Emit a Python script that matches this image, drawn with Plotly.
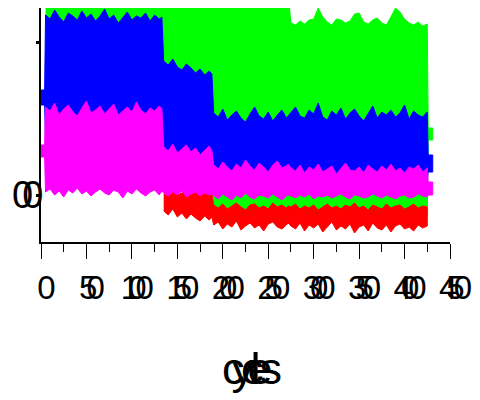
import plotly.graph_objects as go

# sample positions (cycles) of the band envelopes
X = ([5, 10, 15, 20, 25, 30, 35, 40, 45, 50, 55, 60, 65, 70, 75, 80, 85, 90, 95, 100,
      105, 110, 115, 120, 125, 130, 133]
     + [135, 140, 145, 150, 155, 160, 165, 170, 175, 180, 185, 188]
     + [190, 195, 200, 205, 210, 215, 220, 225, 230, 235, 240, 245, 250, 255, 260, 265, 270, 272]
     + [275, 280, 285, 290, 295, 300, 305, 310, 315, 320, 325, 330, 335, 340, 345, 350, 355,
        360, 365, 370, 375, 380, 385, 390, 395, 400, 405, 410, 415, 420, 425])
STUB_START = [0, 4]
STUB_END = [426, 431]

# green
green_top = ([200] * 27 + [200] * 12 + [200] * 18
             + [172, 170, 174, 171, 175, 176, 187, 178, 173, 170, 176, 175, 172, 174, 181, 182,
                173, 171, 175, 177, 172, 170, 178, 187, 183, 176, 172, 170, 173, 169, 171])
green_bot = ([30] * 27 + [10] * 12 + [-20] * 18 + [-20] * 31)
green_end_top = [67, 67]
green_end_bot = [55, 55]

# blue
blue_start_top = [105, 105]
blue_start_bot = [90, 90]
blue_top = ([180, 176, 185, 178, 173, 182, 179, 175, 184, 177, 181, 174, 179, 186, 176, 180,
             172, 178, 183, 175, 179, 177, 182, 174, 180, 176, 178]
            + [134, 130, 136, 128, 125, 131, 127, 122, 126, 120, 124, 121]
            + [82, 78, 86, 75, 80, 84, 77, 73, 81, 88, 79, 76, 83, 74, 80, 85, 77, 79]
            + [83, 88, 79, 77, 85, 81, 92, 78, 75, 84, 80, 87, 76, 82, 86, 79, 74, 81, 89, 77,
               83, 80, 85, 78, 82, 90, 76, 84, 80, 78, 83])
blue_bot = [55] * 27 + [25] * 12 + [15] * 18 + [15] * 31
blue_end_top = [40, 40]
blue_end_bot = [23, 23]

# magenta
mag_start_top = [50, 50]
mag_start_bot = [38, 38]
mag_top = ([88, 84, 92, 80, 86, 90, 83, 79, 87, 94, 82, 85, 89, 81, 86, 91, 80, 84, 88, 83,
            93, 85, 81, 87, 84, 89, 86]
           + [48, 44, 51, 42, 46, 50, 43, 47, 40, 45, 49, 44]
           + [30, 26, 33, 28, 24, 31, 27, 35, 29, 25, 32, 28, 23, 30, 34, 27, 29, 31]
           + [27, 24, 30, 22, 28, 25, 31, 23, 26, 29, 21, 27, 32, 25, 24, 28, 22, 30, 26, 23,
              29, 25, 31, 24, 27, 22, 28, 26, 30, 23, 27])
mag_bot = ([3, 6, 0, 4, -2, 5, 2, 7, 1, 4, -1, 3, 6, 2, 0, 5, 3, -3, 4, 1, 6, 2, -1, 3, 5, 0, 4]
           + [2, -1, 3, 0, 4, -2, 1, 3, -1, 2, 0, 1]
           + [-1, -4, 1, -2, -5, 0, -3, 2, -2, -4, 0, -1, -3, 1, -2, -5, -1, 0]
           + [-1, -3, 0, -2, 1, -4, -1, -2, 0, -3, -1, 1, -2, -4, 0, -1, -3, -2, 1, -1, -3, 0,
              -2, -4, -1, 0, -3, -2, 1, -1, -2])
mag_end_top = [13, 13]
mag_end_bot = [0, 0]

# red (starts at cycle 135)
red_top = ([3, 1, 4, 0, 2, 5, 1, 3, -1, 2, 4, 1]
           + [-10, -13, -9, -14, -11, -8, -12, -15, -10, -9, -13, -11, -14, -8, -12, -10, -13, -11]
           + [-12, -9, -14, -11, -13, -10, -15, -12, -9, -13, -11, -14, -10, -12, -8, -13, -11,
              -15, -10, -12, -14, -9, -13, -11, -10, -14, -12, -9, -13, -11, -12])
red_bot = ([-16, -20, -14, -22, -18, -24, -19, -23, -26, -21, -25, -22]
           + [-30, -27, -34, -29, -32, -26, -35, -31, -28, -33, -30, -36, -29, -27, -32, -34, -30, -28]
           + [-31, -34, -28, -36, -30, -33, -29, -37, -32, -27, -35, -31, -34, -29, -38, -32, -30,
              -36, -28, -33, -35, -30, -37, -31, -29, -34, -32, -36, -30, -33, -31])

X_TICKS = [0, 50, 100, 150, 200, 250, 300, 350, 400, 450]
Y_TICKS = [0, 153]
Y_TICKTEXT = ["00", ""]
X_TITLE = "cycles"


def band(xs, top, bot, color):
    px = list(xs) + list(xs)[::-1]
    py = list(top) + list(bot)[::-1]
    return go.Scatter(x=px, y=py, mode="lines", fill="toself", fillcolor=color,
                      line=dict(color=color, width=1), hoverinfo="skip", showlegend=False)


fig = go.Figure()
fig.add_trace(band(X + STUB_END, green_top + green_end_top, green_bot + green_end_bot, "#00ff00"))
rx = X[27:]
fig.add_trace(band(rx, red_top, red_bot, "#ff0000"))
fig.add_trace(band(STUB_START + X + STUB_END, blue_start_top + blue_top + blue_end_top,
                   blue_start_bot + blue_bot + blue_end_bot, "#0000ff"))
fig.add_trace(band(STUB_START + X + STUB_END, mag_start_top + mag_top + mag_end_top,
                   mag_start_bot + mag_bot + mag_end_bot, "#ff00ff"))

FONT = "Liberation Sans, Arial, sans-serif"


def tight(s, sp):
    return '<span style="letter-spacing:%dpx">%s</span>' % (sp, s) if s else ""


fig.update_layout(
    width=480, height=400,
    margin=dict(l=41, r=30, t=8, b=158),
    paper_bgcolor="white", plot_bgcolor="white",
    font=dict(family=FONT, color="black"),
    xaxis=dict(
        range=[0, 450], tickmode="array", tickvals=X_TICKS,
        ticktext=[tight(str(v), -11) for v in X_TICKS],
        tickfont=dict(size=33, family=FONT),
        ticks="outside", ticklen=15, tickwidth=1.3, tickcolor="black",
        minor=dict(dtick=25, tick0=0, ticks="outside", ticklen=8, tickwidth=1.3, tickcolor="black"),
        showline=True, linecolor="black", linewidth=2,
        showgrid=False, zeroline=False,
        title=dict(text=tight(X_TITLE, -13), font=dict(size=45, family=FONT), standoff=48),
    ),
    yaxis=dict(
        range=[-47, 187], tickmode="array", tickvals=Y_TICKS,
        ticktext=[tight(t, -11) for t in Y_TICKTEXT],
        tickfont=dict(size=38, family=FONT),
        ticks="outside", ticklen=3, tickwidth=3, tickcolor="black",
        ticklabelstandoff=-4,
        showline=True, linecolor="black", linewidth=2,
        showgrid=False, zeroline=False,
    ),
)

fig.write_html("out.html")
